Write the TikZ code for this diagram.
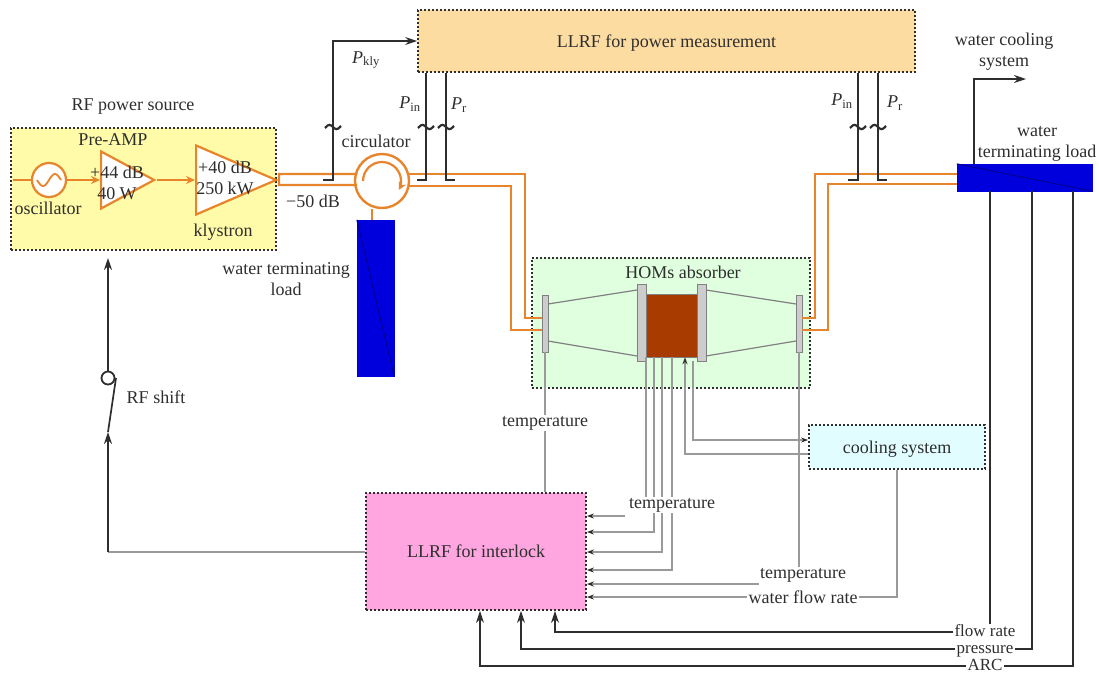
\documentclass[tikz,border=0pt]{standalone}
\usepackage{fontspec}
\setmainfont{Liberation Serif}
\usetikzlibrary{shapes.geometric, arrows.meta}
\definecolor{rfor}{HTML}{E8842C}
\definecolor{ink}{HTML}{2E2E2E}
\definecolor{sgrey}{HTML}{9A9A9A}
\definecolor{loadblue}{HTML}{0000DC}
\definecolor{loadline}{HTML}{00008C}
\definecolor{srcfill}{HTML}{FFFBA8}
\definecolor{llrffill}{HTML}{FDDCA2}
\definecolor{homfill}{HTML}{DFFFDF}
\definecolor{coolfill}{HTML}{E2FDFF}
\definecolor{lockfill}{HTML}{FFA6E0}
\definecolor{cellfill}{HTML}{A83C00}

\begin{document}
\begin{tikzpicture}[x=1pt, y=-1pt, font=\fontsize{18}{21}\selectfont, text=ink,
	panel/.style={draw=ink, line width=1.8pt, dash pattern=on 2pt off 2pt, minimum width=#1, inner sep=0pt},
	lbl/.style={inner sep=1pt, align=center},
	sigl/.style={inner sep=1pt, font=\fontsize{17}{18}\selectfont, text height=8pt, text depth=0pt},
	amp/.style={draw=rfor, line width=2.2pt, fill=white, isosceles triangle, isosceles triangle stretches, anchor=lower side, inner sep=0pt},
	wg/.style={draw=rfor, line width=1.6pt},
	bline/.style={draw=ink, line width=1.7pt},
	barrow/.style={bline, -{Stealth[length=12pt, width=8pt]}},
	gline/.style={draw=sgrey, line width=1.3pt},
	garrow/.style={gline, -{Stealth[length=7pt, width=5pt, color=ink]}},
	flange/.style={draw=gray, fill=black!20, line width=0.8pt, inner sep=0pt},
	load/.style={draw=loadblue, fill=loadblue, inner sep=0pt},
	tildemark/.pic={\draw[line width=2.2pt, ink] (-8,1) .. controls (-4,-4) and (-2,-2) .. (0,0) .. controls (2,2) and (4,4) .. (8,-1);}]
	\useasboundingbox (0,0) rectangle (1099,673);
	% boxes
	\node[panel=265pt, fill=srcfill, minimum height=122pt] (src) at (143.5,189) {};
	\node[panel=497pt, fill=llrffill, minimum height=62pt, text depth=0pt] (llrf) at (666.5,41) {LLRF for power measurement};
	\node[panel=278pt, fill=homfill, minimum height=130pt] (hom) at (671,323) {};
	\node[panel=176pt, fill=coolfill, minimum height=44pt, text depth=0pt] (cool) at (897,447) {cooling system};
	\node[panel=220pt, fill=lockfill, minimum height=117pt] (intlk) at (476,551.5) {LLRF for interlock};
	% source labels
	\node[lbl] (lsrc) at (133,107) {RF power source};
	\node[lbl] (lpre) at (113,140) {Pre-AMP};
	\node[draw=rfor, line width=2.2pt, circle, fill=white, minimum size=34pt, inner sep=0pt] (osc) at (49,180) {};
	\draw[rfor, line width=1.8pt, domain=-12:12, samples=30, smooth] plot ({49+\x},{180-6*sin(30*\x/2)});
	\node[amp, minimum width=57pt, minimum height=53pt] (pre) at (100,180) {};
	\node[amp, minimum width=69pt, minimum height=80pt] (kly) at (195,180) {};
	\node[lbl] (lpreg) at (117,183) {+44 dB\\40 W};
	\node[lbl] (lklyg) at (225,178) {+40 dB\\250 kW};
	\node[lbl] (losc) at (48,208) {oscillator};
	\node[lbl] (lkly) at (223,232) {klystron};
	\coordinate (srcleft) at (13,180);
	\draw[rfor, line width=1.8pt] (srcleft) -- (osc.west);
	\draw[rfor, line width=1.8pt, -{Stealth[length=9pt, width=8pt]}] (osc.east) -- (pre.lower side);
	\draw[rfor, line width=1.8pt, -{Stealth[length=9pt, width=8pt]}] (pre.apex) -- (kly.lower side);
	% circulator and loads
	\node[draw=rfor, line width=2.4pt, circle, fill=white, minimum size=54pt, inner sep=0pt] (circ) at (382,181) {};
	\draw[rfor, line width=2.2pt, -{Stealth[length=8pt, width=8pt]}] ([shift={(180:19pt)}]circ.center) arc (180:-28:19pt);
	\node[load, minimum width=37pt, minimum height=156pt] (tload) at (375.5,298) {};
	\draw[loadline, line width=0.9pt] (tload.north west) -- (tload.south east);
	\draw[rfor, line width=1.2pt] (372,0 |- circ.south) -- (372,0 |- tload.north);
	\node[load, minimum width=135pt, minimum height=27pt] (wload) at (1024.5,177.5) {};
	\draw[loadline, line width=0.9pt] (wload.north west) -- (wload.south east);
	% absorber
	\node[flange, minimum width=6pt, minimum height=57pt] (fla) at (545,323.5) {};
	\node[flange, minimum width=9pt, minimum height=77pt] (flb) at (641.5,322.5) {};
	\node[draw=black!50, fill=cellfill, minimum width=51pt, minimum height=63pt, inner sep=0pt] (cell) at (671.5,325.5) {};
	\node[flange, minimum width=9pt, minimum height=77pt] (flc) at (701.5,322.5) {};
	\node[flange, minimum width=6pt, minimum height=57pt] (fld) at (799,323.5) {};
	\draw[draw=black!50, line width=1.2pt] (548,304) -- (637,290) (548,341) -- (637,356);
	\draw[draw=black!50, line width=1.2pt] (706,290) -- (796,304) (706,356) -- (796,341);
	\node[lbl] (lhom) at (683,272) {HOMs absorber};
	% waveguides
	\draw[wg, line width=2.2pt] (kly.apex) -- (279,174) -- (357,174) (kly.apex) -- (279,185) -- (357,185);
	\draw[wg] (409,174) -- (525,174) -- (525,318) -- (fla.west |- 0,318);
	\draw[wg] (409,186) -- (511,186) -- (511,330) -- (fla.west |- 0,330);
	\draw[wg] (wload.west |- 0,174) -- (815,174) -- (815,318) -- (fld.east |- 0,318);
	\draw[wg] (wload.west |- 0,184) -- (828,184) -- (828,330) -- (fld.east |- 0,330);
	% couplers
	\foreach \cname/\cx/\cdx in {cpin/426/-9, cpr/446/9, dpin/858/-10, dpr/878/9}{
		\coordinate (\cname) at (\cx,180);
		\draw[bline] (\cname |- llrf.south) -- (\cname) -- ++(\cdx,0);
		\pic at (\cx,127) {tildemark};
	}
	\coordinate (cpk) at (333,180);
	\draw[bline] (323,180) -- (cpk) -- (333,127);
	\pic at (333,127) {tildemark};
	\draw[barrow] (333,127) -- (333,41) -- (llrf.west);
	\node[lbl] (lpk) at (366,60) {\textit{P}\textsubscript{kly}};
	\node[lbl] (lpina) at (410,104) {\textit{P}\textsubscript{in}};
	\node[lbl] (lpra) at (459,105) {\textit{P}\textsubscript{r}};
	\node[lbl] (lpinb) at (842,101) {\textit{P}\textsubscript{in}};
	\node[lbl] (lprb) at (895,103) {\textit{P}\textsubscript{r}};
	\node[lbl] (lcirc) at (376,141) {circulator};
	\node[lbl] (lmin) at (313,201) {−50 dB};
	\node[lbl] (ltload) at (286,279) {water terminating\\load};
	\node[lbl] (lwcool) at (1004,52) {water cooling\\system};
	\node[lbl] (lwload) at (1037,144) {water\\terminating load};
	\coordinate (wcend) at (1026,79);
	\draw[barrow] (974,0 |- wload.north) -- (974,79) -- (wcend);
	% feedback and switch
	\node[draw=ink, line width=1.8pt, circle, fill=white, minimum size=13pt, inner sep=0pt] (sw) at (108,378) {};
	\coordinate (swbot) at (108,432);
	\coordinate (swcorner) at (108,552);
	\coordinate (srcin) at (108,258);
	\coordinate (swtip) at (116,378);
	\node[lbl] (lsw) at (156,397) {RF shift};
	\draw[barrow] (sw.north) -- (srcin);
	\draw[bline] (swbot) -- (swtip);
	\draw[gline] (intlk.west |- swcorner) -- (swcorner);
	\draw[barrow] (swcorner) -- (swbot);
	% temperature lines
	\node[lbl] (ltl) at (545,423) {temperature};
	\node[lbl] (ltm) at (672,505) {temperature};
	\node[lbl] (ltr) at (803,575) {temperature};
	\node[lbl] (lwf) at (803,597) {water flow rate};
	\draw[gline] (fla.south) -- (ltl.north -| fla.south);
	\draw[gline] (ltl.south -| fla.south) -- (fla.south |- intlk.north);
	\foreach \tx in {646,654,662,672}{
		\draw[gline] (\tx,0 |- cell.south) -- (\tx,0 |- ltm.north);
	}
	\coordinate (tfree) at (625,516);
	\draw[garrow] (tfree) -- (intlk.east |- tfree);
	\draw[garrow] (654,0 |- ltm.south) |- (intlk.east |- 0,532);
	\draw[garrow] (662,0 |- ltm.south) |- (intlk.east |- 0,552);
	\draw[garrow] (672,0 |- ltm.south) |- (intlk.east |- 0,570);
	\draw[gline] (fld.south) -- (fld.south |- ltr.north);
	\draw[garrow] (ltr.west |- 0,584) -- (intlk.east |- 0,584);
	\draw[garrow] (lwf.west) -- (intlk.east |- lwf.west);
	\draw[gline] (cool.south) |- (lwf.east);
	% cooling loop
	\draw[garrow] (693,0 |- flc.south) |- (cool.west |- 0,440);
	\draw[garrow] (cool.west |- 0,454) -| (685,0 |- cell.south);
	% bottom signals
	\node[sigl] (lfr) at (985,632) {flow rate};
	\node[sigl] (lpr) at (985,649) {pressure};
	\node[sigl] (larc) at (985,666) {ARC};
	\draw[bline] (990,0 |- wload.south) -- (990,624);
	\draw[bline] (1032,0 |- wload.south) |- (lpr.east);
	\draw[bline] (1073,0 |- wload.south) |- (larc.east);
	\draw[barrow] (lfr.west) -| (555,0 |- intlk.south);
	\draw[barrow] (lpr.west) -| (521,0 |- intlk.south);
	\draw[barrow] (larc.west) -| (480,0 |- intlk.south);
\end{tikzpicture}
\end{document}
